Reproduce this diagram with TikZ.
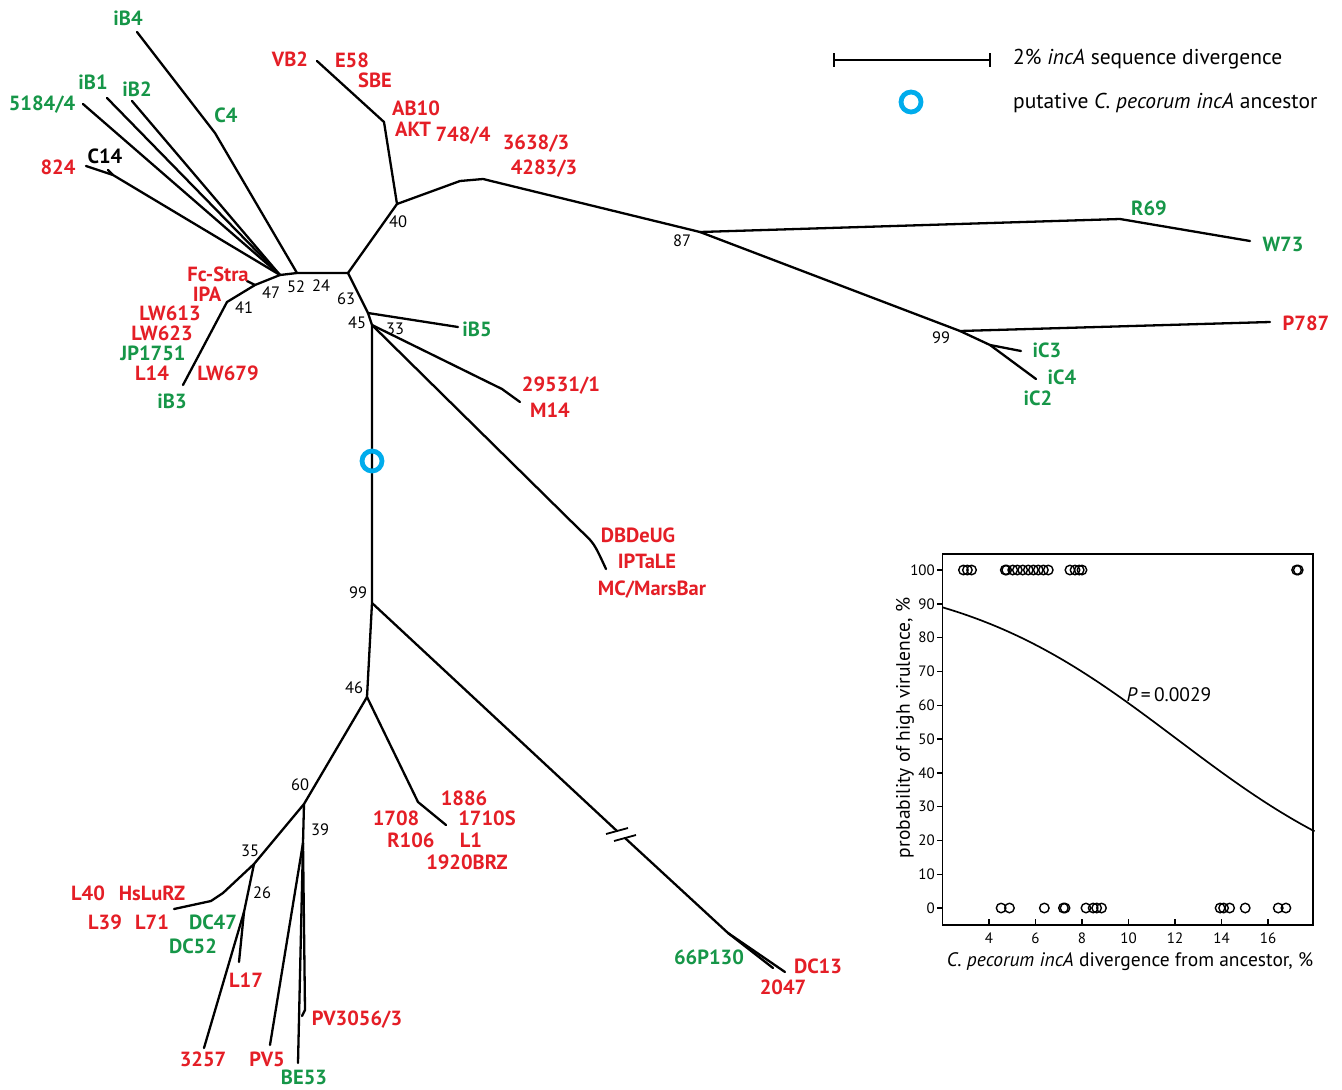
\documentclass[tikz,border=0pt]{standalone}
\usepackage{fontspec}
\setmainfont{PT Sans}
\usetikzlibrary{calc}
\definecolor{cred}{RGB}{228,30,38}
\definecolor{cgreen}{RGB}{22,150,72}
\definecolor{cblue}{RGB}{0,172,236}
\begin{document}
\begin{tikzpicture}[x=1pt,y=-1pt,
  edge/.style={line width=2.3pt, line join=round, line cap=round},
  tiplbl/.style={font=\bfseries\fontsize{20.5}{22}\selectfont, inner sep=0pt},
  rd/.style={tiplbl, text=cred},
  gr/.style={tiplbl, text=cgreen},
  bk/.style={tiplbl, text=black},
  boot/.style={font=\fontsize{16.5}{18}\selectfont, inner sep=0pt},
  ancestor/.style={circle, draw=cblue, line width=4.8pt, minimum size=20pt, inner sep=0pt},
  dot/.style={circle, draw, line width=1.4pt, minimum size=9.5pt, inner sep=0pt},
  ticklbl/.style={font=\fontsize{15}{16}\selectfont, inner sep=0pt},
  axtitle/.style={font=\fontsize{19.5}{21}\selectfont, inner sep=0pt},
  legendtxt/.style={font=\fontsize{21.5}{23}\selectfont, inner sep=0pt, anchor=west}
]
\useasboundingbox (0,0) rectangle (1342,1090);

% ---------- tree: junctions and tips ----------
\coordinate (nA) at (280,275);
\coordinate (nB) at (297,273);
\coordinate (nC) at (348,273);
\coordinate (n40) at (397,204);
\coordinate (n87) at (700,232);
\coordinate (n99r) at (960,331);
\coordinate (nC3) at (990,345);
\coordinate (n45) at (368,313);
\coordinate (n33) at (372,325);
\coordinate (n99) at (372,603);
\coordinate (n46) at (367,697);
\coordinate (n60) at (304,804);
\coordinate (n35) at (254,864);
\coordinate (n26) at (244,912);
\coordinate (n39) at (303,843);
\coordinate (nFc) at (255,285);
\coordinate (n41) at (227,302);

% upper-left group
\coordinate (tB4) at (137,32);
\coordinate (bB4) at (215,133);
\coordinate (t5184) at (83,104);
\coordinate (tB1) at (107,98);
\coordinate (tB2) at (132,101);
\coordinate (t824) at (86,166);
\coordinate (b824) at (113,175);
\coordinate (tC14) at (108,170);
\coordinate (tFc) at (247,281);
\coordinate (tB3) at (183,385);

% upper-centre group
\coordinate (bAB) at (384,122);
\coordinate (tVB) at (317,61);
\coordinate (b748a) at (460,181);
\coordinate (b748b) at (483,179);

% right group
\coordinate (bR69) at (1120,219);
\coordinate (tW73) at (1250,241);
\coordinate (tP787) at (1270,322);
\coordinate (tC3) at (1021,351);
\coordinate (tC4) at (1036,379);

% middle group
\coordinate (tB5) at (458,327);
\coordinate (b29) at (502,389);
\coordinate (t29) at (520,402);
\coordinate (bDB) at (580,530);
\coordinate (tDB) at (606,569);

% lower groups
\coordinate (brkA) at (617,831);
\coordinate (brkB) at (625,838);
\coordinate (bDC) at (728,933);
\coordinate (tDC) at (785,972);
\coordinate (t2047) at (773,968);
\coordinate (b17) at (418,802);
\coordinate (t17) at (446,825);
\coordinate (bL40a) at (223,893);
\coordinate (bL40b) at (211,901);
\coordinate (tL40) at (174,909);
\coordinate (tL17) at (239,962);
\coordinate (t3257) at (204,1048);
\coordinate (tPV5) at (270,1045);
\coordinate (tBE) at (298,1063);
\coordinate (tPV30) at (305,1010);
\coordinate (kPV30) at (302,1016);

% ---------- tree: branches ----------
\draw[edge] (tB4) -- (bB4) -- (nB);
\draw[edge] (t5184) -- (nA);
\draw[edge] (tB1) -- (nA);
\draw[edge] (tB2) -- (nA);
\draw[edge] (t824) -- (b824) -- (nA);
\draw[edge] (b824) -- (tC14);
\draw[edge] (nA) -- (nB) -- (nC);
\draw[edge] (nA) -- (nFc) -- (n41) -- (tB3);
\draw[edge] (nFc) -- (tFc);
\draw[edge] (nC) -- (n40) -- (bAB) -- (tVB);
\draw[edge] (n40) -- (b748a) -- (b748b) -- (n87);
\draw[edge] (n87) -- (bR69) -- (tW73);
\draw[edge] (n87) -- (n99r) -- (tP787);
\draw[edge] (n99r) -- (nC3) -- (tC3);
\draw[edge] (nC3) -- (tC4);
\draw[edge] (nC) -- (n45) -- (tB5);
\draw[edge] (n45) -- (n33) -- (b29) -- (t29);
\draw[edge] (n33) -- (bDB) .. controls (594,543) .. (tDB);
\draw[edge] (n33) -- (n99) -- (n46);
\draw[edge] (n99) -- (brkA);
\draw[edge] (brkB) -- (bDC) -- (tDC);
\draw[edge] (bDC) -- (t2047);
\draw[edge] (n46) -- (b17) -- (t17);
\draw[edge] (n46) -- (n60) -- (n35) -- (bL40a) -- (bL40b) -- (tL40);
\draw[edge] (n35) -- (n26) -- (tL17);
\draw[edge] (n26) -- (t3257);
\draw[edge] (n60) -- (n39) -- (tPV30) -- (kPV30);
\draw[edge] (n39) -- (tPV5);
\draw[edge] (n39) -- (tBE);

% break marks on the long branch
\coordinate (mk1a) at ($(brkA)+(-11,3)$);
\coordinate (mk1b) at ($(brkA)+(11,-3)$);
\coordinate (mk2a) at ($(brkB)+(-11,3)$);
\coordinate (mk2b) at ($(brkB)+(11,-3)$);
\draw[line width=1.8pt] (mk1a) -- (mk1b);
\draw[line width=1.8pt] (mk2a) -- (mk2b);

% putative ancestor on the tree
\node[ancestor] (anc) at (372,461) {};

% ---------- tip labels ----------
\node[gr] (LiB4) at (128,18) {iB4};
\node[gr] (LC4) at (226,115) {C4};
\node[gr] (LiB1) at (93,82) {iB1};
\node[gr] (LiB2) at (137,89) {iB2};
\node[gr] (L5184) at (42,105) {5184/4};
\node[rd] (L824) at (58,167) {824};
\node[bk] (LC14) at (105,156) {C14};
\node[rd] (LVB2) at (290,59) {VB2};
\node[rd] (LE58) at (352,60) {E58};
\node[rd] (LSBE) at (375,80) {SBE};
\node[rd] (LAB10) at (416,108) {AB10};
\node[rd] (LAKT) at (413,129) {AKT};
\node[rd] (L748) at (463,136) {748/4};
\node[rd] (L3638) at (536,144) {3638/3};
\node[rd] (L4283) at (544,169) {4283/3};
\node[gr] (LR69) at (1149,208) {R69};
\node[gr] (LW73) at (1283,244) {W73};
\node[rd] (LP787) at (1306,323) {P787};
\node[gr] (LiC3) at (1047,350) {iC3};
\node[gr] (LiC4) at (1062,377) {iC4};
\node[gr] (LiC2) at (1038,398) {iC2};
\node[rd] (LFc) at (218,274) {Fc-Stra};
\node[rd] (LIPA) at (207,294) {IPA};
\node[rd] (LLW613) at (170,313) {LW613};
\node[rd] (LLW623) at (162,333) {LW623};
\node[gr] (LJP) at (153,353) {JP1751};
\node[rd] (LL14) at (152,373) {L14};
\node[rd] (LLW679) at (228,373) {LW679};
\node[gr] (LiB3) at (172,401) {iB3};
\node[gr] (LiB5) at (477,329) {iB5};
\node[rd] (L29531) at (561,386) {29531/1};
\node[rd] (LM14) at (550,410) {M14};
\node[rd] (LDB) at (638,535) {DBDeUG};
\node[rd] (LIPT) at (647,561) {IPTaLE};
\node[rd] (LMC) at (652,590) {MC/MarsBar};
\node[rd] (L1886) at (464,798) {1886};
\node[rd] (L1710) at (487,818) {1710S};
\node[rd] (L1708) at (396,818) {1708};
\node[rd] (LR106) at (411,840) {R106};
\node[rd] (LL1) at (471,840) {L1};
\node[rd] (L1920) at (467,862) {1920BRZ};
\node[rd] (LL40) at (88,893) {L40};
\node[rd] (LHs) at (152,893) {HsLuRZ};
\node[rd] (LL39) at (105,922) {L39};
\node[rd] (LL71) at (152,922) {L71};
\node[gr] (LDC47) at (213,922) {DC47};
\node[gr] (LDC52) at (193,946) {DC52};
\node[rd] (LL17) at (246,980) {L17};
\node[rd] (L3257) at (203,1059) {3257};
\node[rd] (LPV5) at (267,1059) {PV5};
\node[gr] (LBE53) at (304,1077) {BE53};
\node[rd] (LPV30) at (357,1020) {PV3056/3};
\node[gr] (L66P) at (709,957) {66P130};
\node[rd] (LDC13) at (818,966) {DC13};
\node[rd] (L2047) at (783,987) {2047};

% ---------- bootstrap values ----------
\node[boot] (b40) at (398,222) {40};
\node[boot] (b87) at (682,241) {87};
\node[boot] (b99r) at (941,338) {99};
\node[boot] (b47) at (271,293) {47};
\node[boot] (b52) at (296,287) {52};
\node[boot] (b24) at (321,286) {24};
\node[boot] (b63) at (346,299) {63};
\node[boot] (b45) at (357,323) {45};
\node[boot] (b33) at (395,329) {33};
\node[boot] (b41) at (244,308) {41};
\node[boot] (b99) at (358,593) {99};
\node[boot] (b46) at (354,688) {46};
\node[boot] (b60) at (300,785) {60};
\node[boot] (b39) at (320,830) {39};
\node[boot] (b35) at (250,851) {35};
\node[boot] (b26) at (262,893) {26};

% ---------- legend ----------
\coordinate (sbL) at (834,60);
\coordinate (sbR) at (990,60);
\draw[line width=2pt] (sbL) -- (sbR);
\draw[line width=2pt] ($(sbL)+(0,-7)$) -- ($(sbL)+(0,7)$);
\draw[line width=2pt] ($(sbR)+(0,-7)$) -- ($(sbR)+(0,7)$);
\node[legendtxt] (sbtxt) at (1013,59) {2\% \textit{incA} sequence divergence};
\node[ancestor] (ancL) at (911,102) {};
\node[legendtxt] (anctxt) at (1013,103) {putative \textit{C. pecorum incA} ancestor};

% ---------- inset: probability of high virulence ----------
\draw[line width=1.7pt] (942.5,554) rectangle (1313,925);
\foreach \v in {0,10,...,100} {
  \draw[line width=1.4pt] (942.5,{908-3.38*\v}) -- ++(-6,0);
  \node[ticklbl, anchor=east] (yt\v) at (935,{908-3.38*\v}) {\v};
}
\foreach \v in {4,6,...,16} {
  \draw[line width=1.4pt] ({942.5+(\v-2)*23.25},925) -- ++(0,-6);
  \node[ticklbl] (xt\v) at ({942.5+(\v-2)*23.25},938) {\v};
}
\node[axtitle, rotate=90] (ytitle) at (905,728) {probability of high virulence, \%};
\node[axtitle] (xtitle) at (1130,962) {\textit{C. pecorum incA} divergence from ancestor, \%};
\node[font=\fontsize{19.5}{21}\selectfont, inner sep=0pt] (pval) at (1169,695) {\textit{P}\,=\,0.0029};

% logistic fit
\draw[line width=1.7pt] plot[domain=2:18, samples=80, smooth]
  ({942.5+(\x-2)*23.25},{908-338/(1+exp(-(2.5-0.207*\x)))});

% observed strains
\foreach \v [count=\i] in {2.9,3.07,3.25,4.7,4.76,5.02,5.22,5.45,5.69,5.91,6.12,6.34,6.55,7.48,7.7,7.88,8.0,17.23,17.3} {
  \node[dot] (hi\i) at ({942.5+(\v-2)*23.25},570) {};
}
\foreach \v [count=\i] in {4.52,4.88,6.38,7.2,7.27,8.17,8.48,8.63,8.84,13.94,14.09,14.35,15.02,16.44,16.77} {
  \node[dot] (lo\i) at ({942.5+(\v-2)*23.25},908) {};
}
\end{tikzpicture}
\end{document}
